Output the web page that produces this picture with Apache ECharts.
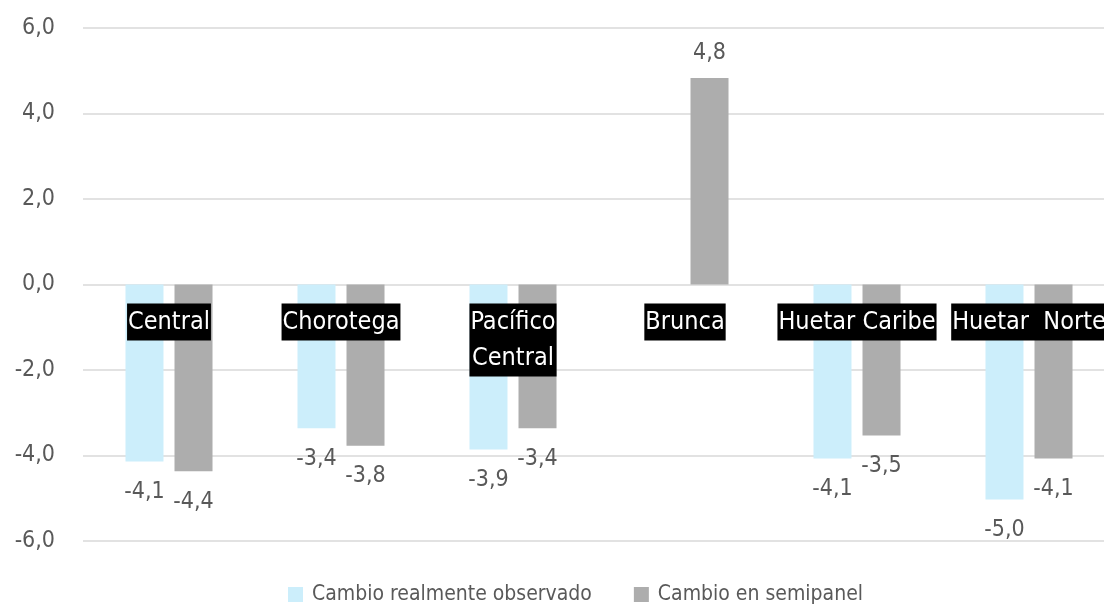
<!DOCTYPE html>
<html>
<head>
<meta charset="utf-8">
<script src="https://cdn.jsdelivr.net/npm/echarts@6/dist/echarts.min.js"></script>
<style>html,body{margin:0;padding:0;background:#fff}#c{width:1104px;height:605px}</style>
</head>
<body>
<div id="c"></div>
<script>
var categories = ['Central', 'Chorotega', 'Pacífico\nCentral', 'Brunca', 'Huetar Caribe', 'Huetar  Norte'];
var observado = [-4.14, -3.36, -3.86, null, -4.07, -5.03];
var semipanel = [-4.37, -3.77, -3.36, 4.83, -3.53, -4.07];
var yTicks = { min: -6, max: 6, interval: 2 };
var seriesNames = ['Cambio realmente observado', 'Cambio en semipanel'];

var FONT = "'DejaVu Sans Condensed', 'Liberation Sans Narrow', 'Noto Sans', sans-serif";
function fmt(v) { return v.toFixed(1).replace('.', ','); }
function toData(arr) {
  return arr.map(function (v) {
    if (v === null) return null;
    return { value: v, label: { position: v < 0 ? 'bottom' : 'top', distance: v < 0 ? 19 : 13 } };
  });
}
var labelStyle = {
  show: true, color: '#595959', fontSize: 23, fontFamily: FONT,
  formatter: function (p) { return fmt(p.value); }
};
var chart = echarts.init(document.getElementById('c'));
chart.setOption({
  animation: false,
  textStyle: { fontFamily: FONT },
  grid: { left: 83, right: -11, top: 28, bottom: 64, containLabel: false, outerBoundsMode: 'none' },
  legend: {
    top: 579, left: 283, itemWidth: 15, itemHeight: 15, itemGap: 42,
    icon: 'rect',
    textStyle: { color: '#595959', fontSize: 21, fontFamily: FONT, padding: [0, 0, 0, 4] },
    data: seriesNames
  },
  xAxis: {
    type: 'category', data: categories,
    axisLine: { show: false },
    axisTick: { show: false },
    axisLabel: { show: false }
  },
  yAxis: {
    type: 'value', min: yTicks.min, max: yTicks.max, interval: yTicks.interval,
    axisLine: { show: false }, axisTick: { show: false },
    splitLine: { lineStyle: { color: '#D9D9D9', width: 1.5 } },
    axisLabel: { margin: 28, color: '#595959', fontSize: 23, fontFamily: FONT, formatter: fmt }
  },
  series: [
    { name: seriesNames[0], type: 'bar', data: toData(observado), barWidth: 38, barGap: '29%',
      itemStyle: { color: '#CCEEFB' }, label: labelStyle },
    { name: seriesNames[1], type: 'bar', data: toData(semipanel), barWidth: 38, barGap: '29%',
      itemStyle: { color: '#ADADAD' }, label: labelStyle },
    { name: 'categoryLabels', type: 'scatter', symbolSize: 0, silent: true, z: 5,
      itemStyle: { opacity: 1 },
      data: categories.map(function (c) { return [c, 0]; }),
      label: {
        show: true, position: 'bottom', distance: 19, opacity: 1,
        color: '#ffffff', backgroundColor: '#000000', fontSize: 25, lineHeight: 36,
        fontFamily: FONT, padding: [1, 1, 0, 1],
        formatter: function (p) { return p.data[0]; }
      }
    }
  ]
});
</script>
</body>
</html>
